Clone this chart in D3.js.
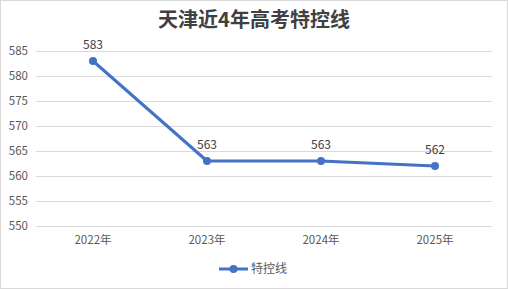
<!DOCTYPE html>
<html>
<head>
<meta charset="utf-8">
<script src="https://cdn.jsdelivr.net/npm/d3@7"></script>
<style>
  body { margin: 0; background: #fff; }
  svg { display: block; }
</style>
</head>
<body>
<svg width="508" height="289"></svg>
<script>
var years = ["2022年", "2023年", "2024年", "2025年"];
var scores = [583, 563, 563, 562];
var yTicks = [550, 555, 560, 565, 570, 575, 580, 585];
var seriesName = "特控线";
var title = "天津近4年高考特控线";

var svg = d3.select("svg");
var font = "'Noto Sans CJK SC', 'Open Sans', sans-serif";
var color = "#4472C4";

// outer frame
svg.append("rect")
  .attr("x", 0.5).attr("y", 0.5)
  .attr("width", 507).attr("height", 288)
  .attr("fill", "#fff")
  .attr("stroke", "#d9d9d9");

svg.append("text")
  .attr("x", 254).attr("y", 27)
  .attr("text-anchor", "middle")
  .attr("font-family", font)
  .attr("font-size", 20)
  .attr("font-weight", "bold")
  .attr("fill", "#404040")
  .text(title);

var margin = {top: 51, left: 36, right: 16, bottom: 63};
var width = 508 - margin.left - margin.right,
    height = 289 - margin.top - margin.bottom;

var g = svg.append("g")
  .attr("transform", "translate(" + margin.left + "," + margin.top + ")");

var x = d3.scaleBand().domain(years).range([0, width]);
var y = d3.scaleLinear().domain([550, 585]).range([height, 0]);

// gridlines
g.selectAll(".grid")
  .data(yTicks)
  .enter()
  .append("line")
  .attr("class", "grid")
  .attr("x1", 0).attr("x2", width)
  .attr("y1", function(d) { return Math.round(y(d)) + 0.5; })
  .attr("y2", function(d) { return Math.round(y(d)) + 0.5; })
  .attr("stroke", "#d9d9d9");

// y axis
var yAxis = g.append("g")
  .call(d3.axisLeft(y).tickValues(yTicks).tickSize(0).tickPadding(8));
yAxis.select(".domain").remove();
yAxis.selectAll("text")
  .attr("font-family", font)
  .attr("font-size", 11.5)
  .attr("fill", "#595959");

// x axis
var xAxis = g.append("g")
  .attr("transform", "translate(0," + height + ")")
  .call(d3.axisBottom(x).tickSize(0).tickPadding(10));
xAxis.select(".domain").remove();
xAxis.selectAll("text")
  .attr("font-family", font)
  .attr("font-size", 11.5)
  .attr("fill", "#595959");

var cx = function(d, i) { return x(years[i]) + x.bandwidth() / 2; };

var line = d3.line()
  .x(function(d, i) { return cx(d, i); })
  .y(function(d) { return y(d); });

g.append("path")
  .datum(scores)
  .attr("fill", "none")
  .attr("stroke", color)
  .attr("stroke-width", 3)
  .attr("stroke-linejoin", "round")
  .attr("d", line);

g.selectAll(".pt")
  .data(scores)
  .enter()
  .append("circle")
  .attr("class", "pt")
  .attr("cx", cx)
  .attr("cy", function(d) { return y(d); })
  .attr("r", 4)
  .attr("fill", color);

g.selectAll(".lbl")
  .data(scores)
  .enter()
  .append("text")
  .attr("class", "lbl")
  .attr("x", cx)
  .attr("y", function(d) { return y(d) - 12; })
  .attr("text-anchor", "middle")
  .attr("font-family", font)
  .attr("font-size", 12)
  .attr("fill", "#404040")
  .text(function(d) { return d; });

// legend
var lg = svg.append("g").attr("transform", "translate(219,269)");
lg.append("line")
  .attr("x1", 0).attr("x2", 29)
  .attr("stroke", color).attr("stroke-width", 3);
lg.append("circle")
  .attr("cx", 14.5).attr("r", 4).attr("fill", color);
lg.append("text")
  .attr("x", 32).attr("y", 4)
  .attr("font-family", font)
  .attr("font-size", 12)
  .attr("fill", "#595959")
  .text(seriesName);
</script>
</body>
</html>
